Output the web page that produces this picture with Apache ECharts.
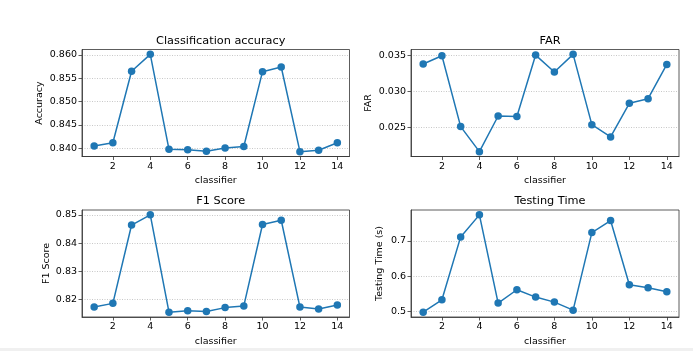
<!DOCTYPE html>
<html>
<head>
<meta charset="utf-8">
<script src="https://cdn.jsdelivr.net/npm/echarts@6/dist/echarts.min.js"></script>
<style>
html,body{margin:0;padding:0;background:#fff;}
#chart{width:693px;height:351px;}
</style>
</head>
<body>
<div id="chart"></div>
<script>
const classifiers = [1,2,3,4,5,6,7,8,9,10,11,12,13,14];
const xTicks = [2,4,6,8,10,12,14];
const accuracy = [0.8405,0.8412,0.8565,0.8601,0.8398,0.8397,0.8394,0.8401,0.8404,0.8564,0.8574,0.8393,0.8396,0.8412];
const far = [0.03384,0.03500,0.02510,0.02160,0.02658,0.02651,0.03509,0.03272,0.03519,0.02537,0.02365,0.02835,0.02900,0.03379];
const f1 = [0.8174,0.8187,0.8464,0.8500,0.8156,0.8161,0.8158,0.8172,0.8178,0.8466,0.8481,0.8174,0.8167,0.8181];
const testTime = [0.4981,0.5332,0.7114,0.7739,0.5237,0.5616,0.5408,0.5265,0.5038,0.7237,0.7578,0.5758,0.5673,0.5559];
const accTicks = [0.840,0.845,0.850,0.855,0.860];
const farTicks = [0.025,0.030,0.035];
const f1Ticks = [0.82,0.83,0.84,0.85];
const ttTicks = [0.5,0.6,0.7];

const panels = [
  {title:'Classification accuracy', ylabel:'Accuracy', data:accuracy, ticks:accTicks, dec:3, gap:37},
  {title:'FAR', ylabel:'FAR', data:far, ticks:farTicks, dec:3, gap:37},
  {title:'F1 Score', ylabel:'F1 Score', data:f1, ticks:f1Ticks, dec:2, gap:30},
  {title:'Testing Time', ylabel:'Testing Time (s)', data:testTime, ticks:ttTicks, dec:1, gap:26}
];

const gridPos = [
  {left:82, top:49.5, width:267.5, height:107},
  {left:411, top:49.5, width:268, height:107},
  {left:82, top:210, width:267.5, height:107},
  {left:411, top:210, width:268, height:107}
];

const FONT = 'DejaVu Sans';
const xMin = classifiers[0] - 0.05*(classifiers[classifiers.length-1]-classifiers[0]);
const xMax = classifiers[classifiers.length-1] + 0.05*(classifiers[classifiers.length-1]-classifiers[0]);

const option = {
  animation:false,
  backgroundColor:'#fff',
  textStyle:{fontFamily:FONT},
  title: panels.map((p,i)=>({
    text:p.title,
    left: gridPos[i].left + gridPos[i].width/2,
    top: gridPos[i].top - 19,
    textAlign:'center',
    textStyle:{fontFamily:FONT,fontSize:11.3,fontWeight:'normal',color:'#000'}
  })),
  grid: gridPos.map(g=>({left:g.left, top:g.top, width:g.width, height:g.height, show:true, borderColor:'#333', borderWidth:0.8, backgroundColor:'transparent'})),
  xAxis: panels.map((p,i)=>({
    type:'value', gridIndex:i, min:xMin, max:xMax,
    name:'classifier', nameLocation:'middle', nameGap:19.5,
    nameTextStyle:{fontFamily:FONT,fontSize:9.5,color:'#000'},
    axisLine:{show:true,onZero:false,lineStyle:{color:'#333',width:0.8}},
    axisTick:{show:true,length:3.5,customValues:xTicks,lineStyle:{color:'#333',width:0.8}},
    axisLabel:{customValues:xTicks,fontFamily:FONT,fontSize:9.5,color:'#000',margin:5},
    splitLine:{show:false}
  })),
  yAxis: panels.map((p,i)=>{
    const mn = Math.min(...p.data), mx = Math.max(...p.data), r = mx-mn;
    return {
      type:'value', gridIndex:i, min:mn-0.05*r, max:mx+0.05*r,
      name:p.ylabel, nameLocation:'middle', nameGap:p.gap,
      nameTextStyle:{fontFamily:FONT,fontSize:9.5,color:'#000'},
      axisLine:{show:true,lineStyle:{color:'#333',width:0.8}},
      axisTick:{show:true,length:3.5,customValues:p.ticks,lineStyle:{color:'#333',width:0.8}},
      axisLabel:{customValues:p.ticks,fontFamily:FONT,fontSize:9.5,color:'#000',margin:5,
        formatter:v=>Number(v).toFixed(p.dec)},
      splitLine:{show:true,lineStyle:{color:'#b0b0b0',width:0.7,type:[1,1.5]}}
    };
  }),
  series: panels.map((p,i)=>({
    type:'line', xAxisIndex:i, yAxisIndex:i,
    data: classifiers.map((c,k)=>[c,p.data[k]]),
    symbol:'circle', symbolSize:7.5,
    lineStyle:{color:'#1f77b4',width:1.5},
    itemStyle:{color:'#1f77b4'}
  })),
  graphic:[{type:'rect',shape:{x:0,y:348,width:693,height:3},style:{fill:'#f0f0f0'}}]
};

const chart = echarts.init(document.getElementById('chart'),null,{renderer:'canvas'});
chart.setOption(option);
</script>
</body>
</html>
